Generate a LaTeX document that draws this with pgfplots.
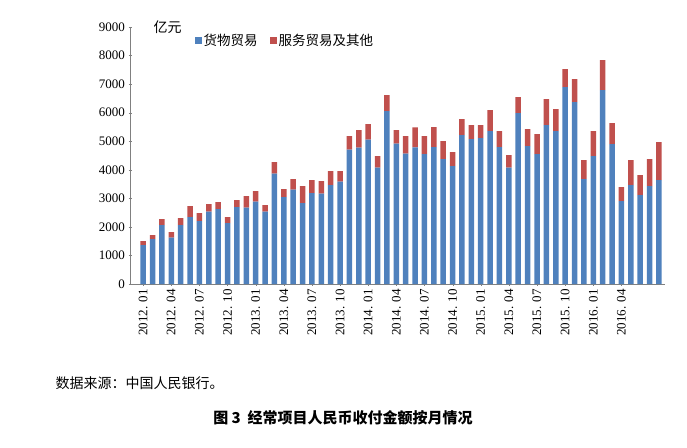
\documentclass[border=0pt]{standalone}
\usepackage{pgfplots}
\pgfplotsset{compat=1.18}
\usepackage{fontspec}
\setmainfont{Liberation Serif}
\newfontfamily\cjk{Noto Sans CJK SC}
\definecolor{cb}{HTML}{4F81BD}
\definecolor{cr}{HTML}{C0504D}
\begin{document}
\begin{tikzpicture}[x=1pt,y=1pt]
\useasboundingbox (-130,-163) rectangle (557,284);
\begin{axis}[at={(0,0)},anchor=south west,scale only axis,width=535pt,height=257pt,
 ybar stacked,bar width=5.5pt,xmin=-1.4,xmax=55.65,ymin=0,ymax=9000,
 ytick={0,1000,...,9000},axis x line=bottom,axis y line=left,axis line style={gray,-},
 tick style={gray},major tick length=3pt,
 xtick={0,3,...,51},xticklabels={2012. 01,2012. 04,2012. 07,2012. 10,2013. 01,2013. 04,2013. 07,2013. 10,2014. 01,2014. 04,2014. 07,2014. 10,2015. 01,2015. 04,2015. 07,2015. 10,2016. 01,2016. 04},
 x tick label style={rotate=90,anchor=east,font=\fontsize{13}{13}\selectfont},
 y tick label style={font=\fontsize{13}{13}\selectfont},
 /pgf/number format/assume math mode=true,scaled y ticks=false,
 /pgf/number format/1000 sep={},
 legend style={draw=none,at={(0.115,0.99)},anchor=north west,legend columns=2,font=\cjk\fontsize{13.5}{13.5}\selectfont,/tikz/every even column/.style={column sep=10pt}},
 legend image code/.code={\fill[#1] (0,-3.5pt) rectangle (7pt,3.5pt);}]
\addplot[fill=cb,draw=none] coordinates {(0,1365)(1,1575)(2,2066)(3,1622)(4,2066)(5,2346)(6,2206)(7,2532)(8,2626)(9,2136)(10,2696)(11,2673)(12,2883)(13,2532)(14,3863)(15,3046)(16,3303)(17,2836)(18,3186)(19,3163)(20,3466)(21,3583)(22,4703)(23,4773)(24,5053)(25,4073)(26,6057)(27,4913)(28,4563)(29,4785)(30,4551)(31,4796)(32,4376)(33,4131)(34,5216)(35,5076)(36,5111)(37,5356)(38,4796)(39,4073)(40,5987)(41,4831)(42,4551)(43,5566)(44,5356)(45,6897)(46,6372)(47,3676)(48,4481)(49,6792)(50,4901)(51,2906)(52,3466)(53,3116)(54,3431)(55,3641)};
\addplot[fill=cr,draw=none] coordinates {(0,140)(1,140)(2,210)(3,198)(4,244)(5,385)(6,280)(7,269)(8,245)(9,210)(10,245)(11,408)(12,373)(13,234)(14,408)(15,280)(16,373)(17,595)(18,455)(19,443)(20,490)(21,373)(22,478)(23,618)(24,548)(25,408)(26,560)(27,478)(28,618)(29,701)(30,630)(31,700)(32,630)(33,490)(34,560)(35,490)(36,455)(37,736)(38,560)(39,443)(40,560)(41,595)(42,700)(43,911)(44,771)(45,630)(46,805)(47,665)(48,875)(49,1050)(50,735)(51,490)(52,875)(53,700)(54,945)(55,1330)};
\legend{货物贸易,服务贸易及其他}
\end{axis}
\node[anchor=west,font=\cjk\fontsize{14}{14}\selectfont] at (20,257) {亿元};
\node[anchor=west,font=\cjk\fontsize{14}{14}\selectfont] at (-78,-99) {数据来源：中国人民银行。};
\node[font=\cjk\bfseries\fontsize{15}{15}\selectfont] at (213,-134) {图 3\ \ 经常项目人民币收付金额按月情况};
\end{tikzpicture}
\end{document}
